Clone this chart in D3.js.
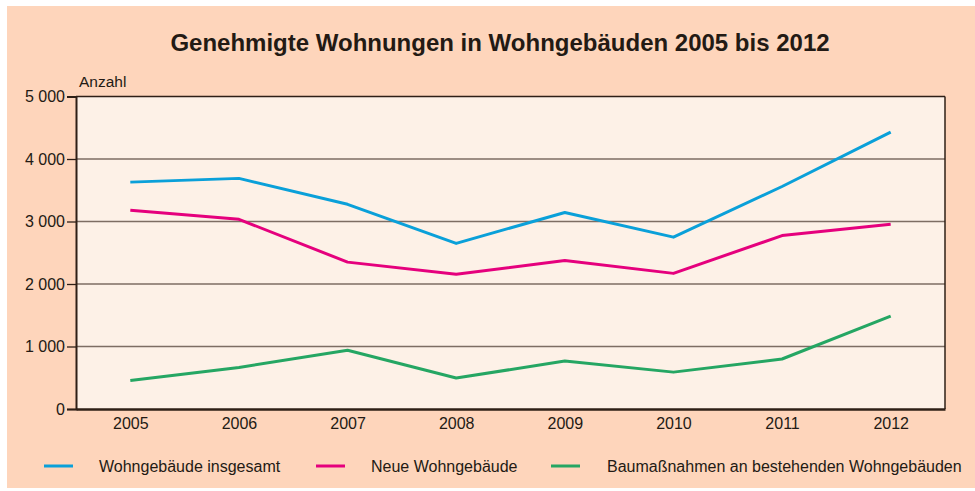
<!DOCTYPE html>
<html>
<head>
<meta charset="utf-8">
<script src="https://cdn.jsdelivr.net/npm/d3@7"></script>
<style>
  body { margin: 0; background: #ffffff; }
  svg { display: block; font-family: "Liberation Sans", Arial, sans-serif; }
</style>
</head>
<body>
<div id="chart"></div>
<script>
"use strict";

//********************************* DATA *********************************
var years = ["2005", "2006", "2007", "2008", "2009", "2010", "2011", "2012"];
var insgesamt = [3630, 3690, 3275, 2650, 3145, 2750, 3560, 4430];     //Wohngebäude insgesamt
var neue = [3180, 3035, 2350, 2157, 2375, 2170, 2775, 2955];          //Neue Wohngebäude
var bestand = [455, 665, 940, 495, 767, 590, 800, 1485];              //Baumaßnahmen an bestehenden Wohngebäuden
var yTicks = [0, 1000, 2000, 3000, 4000, 5000];
var seriesNames = ["Wohngebäude insgesamt", "Neue Wohngebäude", "Baumaßnahmen an bestehenden Wohngebäuden"];
var seriesColors = ["#0aa0d9", "#e5007d", "#25a663"];

//********************************* LAYOUT *********************************
var width = 975, height = 491;
var plot = {left: 76, right: 945, top: 96.5, bottom: 409};

var svg = d3.select("#chart").append("svg")
    .attr("width", width)
    .attr("height", height);

//outer peach panel
svg.append("rect")
    .attr("x", 7).attr("y", 6)
    .attr("width", width - 7).attr("height", 482)
    .attr("fill", "#fed5bb");

//plot background
svg.append("rect")
    .attr("x", plot.left).attr("y", plot.top)
    .attr("width", plot.right - plot.left).attr("height", plot.bottom - plot.top)
    .attr("fill", "#fdf1e7");

var x = d3.scalePoint()
    .domain(years)
    .range([plot.left, plot.right])
    .padding(0.5);

var y = d3.scaleLinear()
    .domain([0, 5000])
    .range([plot.bottom, plot.top]);

var fmt = function(d){ return d3.format(",")(d).replace(",", " "); };

//grid lines
svg.append("g")
    .selectAll("line")
    .data(yTicks.filter(function(d){ return d > 0 && d < 5000; }))
    .enter()
        .append("line")
        .attr("x1", plot.left).attr("x2", plot.right)
        .attr("y1", function(d){ return y(d); })
        .attr("y2", function(d){ return y(d); })
        .attr("stroke", "#7d6d63")
        .attr("stroke-width", 1.3);

//frame: top and right, left and bottom are the axes
svg.append("line")
    .attr("x1", plot.left).attr("x2", plot.right)
    .attr("y1", plot.top).attr("y2", plot.top)
    .attr("stroke", "#2e1f16").attr("stroke-width", 1.5);
svg.append("line")
    .attr("x1", plot.right).attr("x2", plot.right)
    .attr("y1", plot.top).attr("y2", plot.bottom)
    .attr("stroke", "#2e1f16").attr("stroke-width", 1.5);

//y axis
var yAxis = svg.append("g")
    .attr("transform", "translate(" + plot.left + ",0)")
    .call(d3.axisLeft(y).tickValues(yTicks).tickFormat(fmt).tickSize(9).tickPadding(2));
yAxis.attr("font-size", null).attr("font-family", null);
yAxis.select(".domain").attr("stroke", "#2e1f16").attr("stroke-width", 2);
yAxis.selectAll(".tick line").attr("stroke", "#2e1f16").attr("stroke-width", 1.3);
yAxis.selectAll("text")
    .style("font-size", "16px")
    .attr("fill", "#231a14");

//x axis
var xAxis = svg.append("g")
    .attr("transform", "translate(0," + plot.bottom + ")")
    .call(d3.axisBottom(x).tickSize(0).tickPadding(9));
xAxis.attr("font-size", null).attr("font-family", null);
xAxis.select(".domain").attr("stroke", "#2e1f16").attr("stroke-width", 2.5);
xAxis.selectAll("text")
    .style("font-size", "16px")
    .attr("fill", "#231a14");

//"Anzahl" label
svg.append("text")
    .attr("x", 79).attr("y", 87)
    .style("font-size", "15.5px")
    .attr("fill", "#231a14")
    .text("Anzahl");

//title
svg.append("text")
    .attr("x", 500).attr("y", 51)
    .attr("text-anchor", "middle")
    .style("font-size", "24px")
    .attr("font-weight", "bold")
    .attr("fill", "#231a14")
    .text("Genehmigte Wohnungen in Wohngebäuden 2005 bis 2012");

//lines
var line = d3.line()
    .x(function(d, i){ return x(years[i]); })
    .y(function(d){ return y(d); });

var allSeries = [insgesamt, neue, bestand];
for(var i = 0; i < allSeries.length; ++i){
    svg.append("path")
        .datum(allSeries[i])
        .attr("d", line)
        .attr("fill", "none")
        .attr("stroke", seriesColors[i])
        .attr("stroke-width", 3)
        .attr("stroke-linejoin", "round");
}

//legend
var legendLineX = [44, 316, 551];
var legendTextX = [99, 371, 607];
for(var j = 0; j < seriesNames.length; ++j){
    svg.append("line")
        .attr("x1", legendLineX[j]).attr("x2", legendLineX[j] + 29)
        .attr("y1", 466).attr("y2", 466)
        .attr("stroke", seriesColors[j])
        .attr("stroke-width", 3);
    svg.append("text")
        .attr("x", legendTextX[j]).attr("y", 471.5)
        .style("font-size", "16px")
        .attr("fill", "#231a14")
        .text(seriesNames[j]);
}
</script>
</body>
</html>
